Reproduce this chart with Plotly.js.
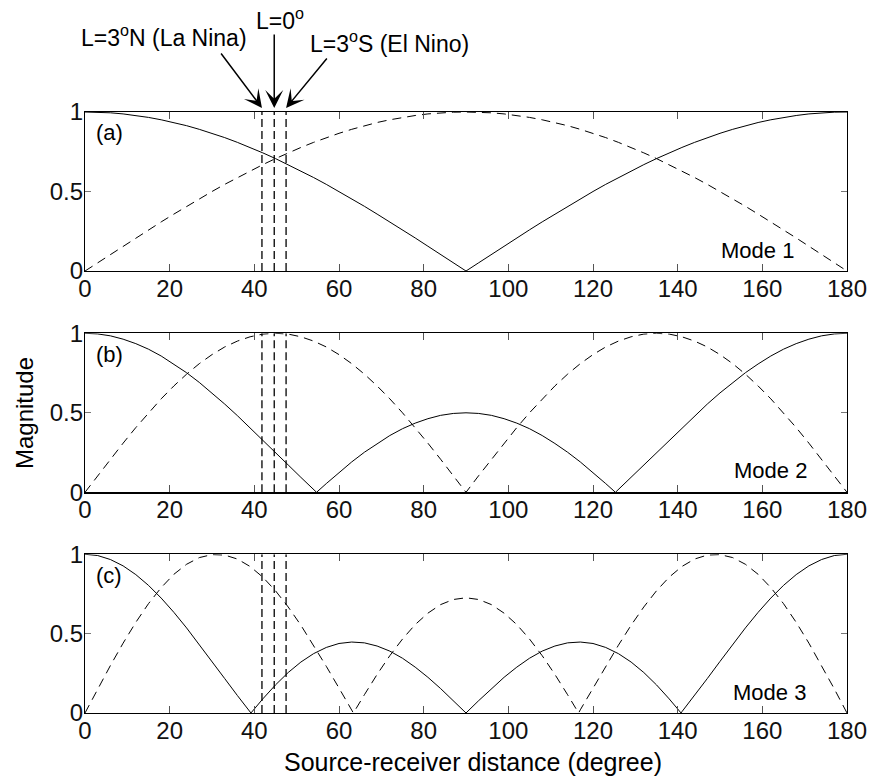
<!DOCTYPE html>
<html>
<head>
<meta charset="utf-8">
<script src="https://cdn.plot.ly/plotly-3.0.1.min.js"></script>
<style>
  html, body { margin: 0; padding: 0; background: #fff; }
  #chart { width: 875px; height: 778px; }
</style>
</head>
<body>
<div id="chart"></div>
<script>
// Source-receiver distance grid (degrees)
const deg = [0,3,6,9,12,15,18,21,24,27,30,33,36,39,42,45,48,51,54,57,60,63,66,69,72,75,78,81,84,87,90,
  93,96,99,102,105,108,111,114,117,120,123,126,129,132,135,138,141,144,147,150,153,156,159,162,165,168,171,174,177,180];

// Mode 1 magnitudes
const mode1Solid = [1.000,0.999,0.995,0.988,0.978,0.966,0.951,0.934,0.914,0.891,0.866,0.839,0.809,0.777,0.743,0.707,0.669,0.629,0.588,0.545,0.500,0.454,0.407,0.358,0.309,0.259,0.208,0.156,0.105,0.052,0.000,
  0.052,0.105,0.156,0.208,0.259,0.309,0.358,0.407,0.454,0.500,0.545,0.588,0.629,0.669,0.707,0.743,0.777,0.809,0.839,0.866,0.891,0.914,0.934,0.951,0.966,0.978,0.988,0.995,0.999,1.000];
const mode1Dashed = [0.000,0.052,0.105,0.156,0.208,0.259,0.309,0.358,0.407,0.454,0.500,0.545,0.588,0.629,0.669,0.707,0.743,0.777,0.809,0.839,0.866,0.891,0.914,0.934,0.951,0.966,0.978,0.988,0.995,0.999,1.000,
  0.999,0.995,0.988,0.978,0.966,0.951,0.934,0.914,0.891,0.866,0.839,0.809,0.777,0.743,0.707,0.669,0.629,0.588,0.545,0.500,0.454,0.407,0.358,0.309,0.259,0.208,0.156,0.105,0.052,0.000];

// Mode 2 magnitudes
const mode2SolidDeg = [0,3,6,9,12,15,18,21,24,27,30,33,36,39,42,45,48,51,54,54.7,57,60,63,66,69,72,75,78,81,84,87,90,
  93,96,99,102,105,108,111,114,117,120,123,125.3,126,129,132,135,138,141,144,147,150,153,156,159,162,165,168,171,174,177,180];
const mode2Solid = [1.000,0.996,0.984,0.963,0.935,0.900,0.857,0.807,0.752,0.691,0.625,0.555,0.482,0.406,0.328,0.250,0.172,0.094,0.018,0.000,0.055,0.125,0.191,0.252,0.307,0.357,0.400,0.435,0.463,0.484,0.496,0.500,
  0.496,0.484,0.463,0.435,0.400,0.357,0.307,0.252,0.191,0.125,0.055,0.000,0.018,0.094,0.172,0.250,0.328,0.406,0.482,0.555,0.625,0.691,0.752,0.807,0.857,0.900,0.935,0.963,0.984,0.996,1.000];
const mode2Dashed = [0.000,0.105,0.208,0.309,0.407,0.500,0.588,0.669,0.743,0.809,0.866,0.914,0.951,0.978,0.995,1.000,0.995,0.978,0.951,0.914,0.866,0.809,0.743,0.669,0.588,0.500,0.407,0.309,0.208,0.105,0.000,
  0.105,0.208,0.309,0.407,0.500,0.588,0.669,0.743,0.809,0.866,0.914,0.951,0.978,0.995,1.000,0.995,0.978,0.951,0.914,0.866,0.809,0.743,0.669,0.588,0.500,0.407,0.309,0.208,0.105,0.000];

// Mode 3 magnitudes
const mode3SolidDeg = [0,3,6,9,12,15,18,21,24,27,30,33,36,39,39.2,42,45,48,51,54,57,60,63,66,69,72,75,78,81,84,87,90,
  93,96,99,102,105,108,111,114,117,120,123,126,129,132,135,138,140.8,141,144,147,150,153,156,159,162,165,168,171,174,177,180];
const mode3Solid = [1.000,0.992,0.967,0.927,0.872,0.804,0.724,0.634,0.536,0.432,0.325,0.217,0.110,0.008,0.000,0.089,0.177,0.255,0.321,0.374,0.413,0.438,0.447,0.442,0.422,0.390,0.345,0.289,0.225,0.154,0.078,0.000,
  0.078,0.154,0.225,0.289,0.345,0.390,0.422,0.442,0.447,0.438,0.413,0.374,0.321,0.255,0.177,0.089,0.000,0.008,0.110,0.217,0.325,0.432,0.536,0.634,0.724,0.804,0.872,0.927,0.967,0.992,1.000];
const mode3DashedDeg = [0,3,6,9,12,15,18,21,24,27,30,33,36,39,42,45,48,51,54,57,60,63,63.4,66,69,72,75,78,81,84,87,90,
  93,96,99,102,105,108,111,114,116.6,117,120,123,126,129,132,135,138,141,144,147,150,153,156,159,162,165,168,171,174,177,180];
const mode3Dashed = [0.000,0.152,0.299,0.440,0.571,0.689,0.790,0.874,0.937,0.979,0.998,0.995,0.970,0.923,0.856,0.770,0.668,0.553,0.427,0.294,0.157,0.020,0.000,0.115,0.243,0.361,0.466,0.557,0.629,0.683,0.715,0.726,
  0.715,0.683,0.629,0.557,0.466,0.361,0.243,0.115,0.000,0.020,0.157,0.294,0.427,0.553,0.668,0.770,0.856,0.923,0.970,0.995,0.998,0.979,0.937,0.874,0.790,0.689,0.571,0.440,0.299,0.152,0.000];

// Distances marked for the three source latitudes
const markerDeg = [41.8, 44.7, 47.5];
const markerLabels = ['L=3<sup>o</sup>N (La Nina)', 'L=0<sup>o</sup>', 'L=3<sup>o</sup>S (El Nino)'];

// Axis ticks
const xTicks = [0,20,40,60,80,100,120,140,160,180];
const yTicks = [0,0.5,1];
const yTickText = ['0','0.5','1'];

const panelLabels = ['(a)','(b)','(c)'];
const modeLabels = ['Mode 1','Mode 2','Mode 3'];

const FONT = 'Liberation Sans, Arial, Helvetica, sans-serif';
const CURVE_DASH = '9px,6px';
const MARK_DASH = '8px,4px';
const X_MAX = 180;

const panels = [
  {solidX: deg, solidY: mode1Solid, dashX: deg, dashY: mode1Dashed},
  {solidX: mode2SolidDeg, solidY: mode2Solid, dashX: deg, dashY: mode2Dashed},
  {solidX: mode3SolidDeg, solidY: mode3Solid, dashX: mode3DashedDeg, dashY: mode3Dashed}
];

const traces = [];
panels.forEach((p, i) => {
  const xa = i === 0 ? 'x' : 'x' + (i + 1);
  const ya = i === 0 ? 'y' : 'y' + (i + 1);
  markerDeg.forEach(d => {
    traces.push({x: [d, d], y: [0, 1], xaxis: xa, yaxis: ya, mode: 'lines',
      line: {color: '#000', width: 1.3, dash: MARK_DASH}, hoverinfo: 'skip'});
  });
  traces.push({x: p.dashX, y: p.dashY, xaxis: xa, yaxis: ya, mode: 'lines',
    line: {color: '#000', width: 1, dash: CURVE_DASH}});
  traces.push({x: p.solidX, y: p.solidY, xaxis: xa, yaxis: ya, mode: 'lines',
    line: {color: '#000', width: 1}});
});

function xAxis(anchor) {
  return {
    anchor: anchor, domain: [0, 1], range: [0, X_MAX],
    tickvals: xTicks, ticks: 'inside', ticklen: 7, tickwidth: 1, tickcolor: '#555',
    showline: true, linecolor: '#000', linewidth: 1.2, mirror: 'ticks',
    showgrid: false, zeroline: false, ticklabelstandoff: -4,
    tickfont: {family: FONT, size: 24, color: '#111'}
  };
}
function yAxis(anchor, domain) {
  return {
    anchor: anchor, domain: domain, range: [0, 1],
    tickvals: yTicks, ticktext: yTickText, ticks: 'inside', ticklen: 6, tickwidth: 1, tickcolor: '#777',
    showline: true, linecolor: '#000', linewidth: 1.2, mirror: 'ticks',
    showgrid: false, zeroline: false, ticklabelstandoff: -4,
    tickfont: {family: FONT, size: 24, color: '#111'}
  };
}

const annotations = [];
// Arrows pointing at the marked distances (tips just above panel a)
const arrowOffsets = [[-42, -56], [0, -75], [42, -51]];
markerDeg.forEach((d, i) => {
  annotations.push({xref: 'paper', yref: 'paper', x: d / X_MAX, y: 1.0067, text: '', showarrow: true,
    ax: arrowOffsets[i][0], ay: arrowOffsets[i][1], arrowhead: 3, arrowsize: 2,
    arrowwidth: 1.5, arrowcolor: '#000', standoff: 0, startstandoff: 0});
});
// Arrow labels
const labelPos = [
  {x: 0.1037, y: 1.1265, xanchor: 'center'},
  {x: 0.2559, y: 1.1547, xanchor: 'center'},
  {x: 0.2927, y: 1.1165, xanchor: 'left'}
];
markerLabels.forEach((t, i) => {
  annotations.push({xref: 'paper', yref: 'paper', x: labelPos[i].x, y: labelPos[i].y, text: t,
    showarrow: false, xanchor: labelPos[i].xanchor, yanchor: 'middle',
    font: {family: FONT, size: 23, color: '#000'}});
});
// Panel letters and mode names
const modeX = [0.882, 0.899, 0.898];
const modeY = [0.132, 0.137, 0.129];
panelLabels.forEach((t, i) => {
  const sfx = i === 0 ? '' : String(i + 1);
  annotations.push({xref: 'x' + sfx + ' domain', yref: 'y' + sfx + ' domain', x: 0.012, y: 0.868,
    text: t, showarrow: false, xanchor: 'left', yanchor: 'middle',
    font: {family: FONT, size: 22, color: '#000'}});
  annotations.push({xref: 'x' + sfx + ' domain', yref: 'y' + sfx + ' domain', x: modeX[i], y: modeY[i],
    text: modeLabels[i], showarrow: false, xanchor: 'center', yanchor: 'middle',
    font: {family: FONT, size: 22, color: '#000'}});
});
// Shared axis titles
annotations.push({xref: 'paper', yref: 'paper', x: 0.509, y: -0.0815, text: 'Source-receiver distance (degree)',
  showarrow: false, xanchor: 'center', yanchor: 'middle', font: {family: FONT, size: 25, color: '#000'}});
annotations.push({xref: 'paper', yref: 'paper', x: -0.0787, y: 0.4992, text: 'Magnitude', textangle: -90,
  showarrow: false, xanchor: 'center', yanchor: 'middle', font: {family: FONT, size: 24, color: '#000'}});

const layout = {
  width: 875, height: 778,
  margin: {l: 85, r: 28, t: 112, b: 65, pad: 0},
  showlegend: false,
  paper_bgcolor: '#fff', plot_bgcolor: '#fff',
  font: {family: FONT, color: '#000'},
  xaxis: xAxis('y'), xaxis2: xAxis('y2'), xaxis3: xAxis('y3'),
  yaxis: yAxis('x', [0.7354, 1]),
  yaxis2: yAxis('x2', [0.3672, 0.6318]),
  yaxis3: yAxis('x3', [0, 0.2641]),
  annotations: annotations
};

Plotly.newPlot('chart', traces, layout, {staticPlot: true, displayModeBar: false});
</script>
</body>
</html>
